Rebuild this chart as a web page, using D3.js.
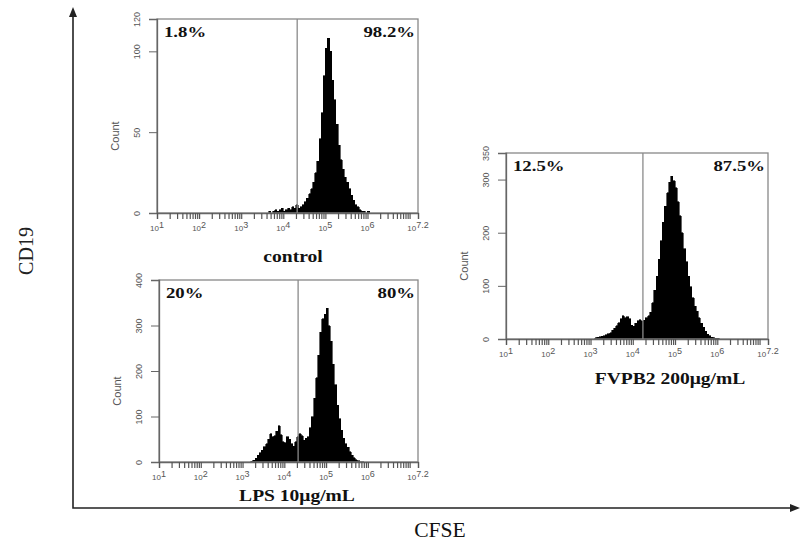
<!DOCTYPE html>
<html>
  <head>
    <meta charset="utf-8">
    <script src="https://cdn.jsdelivr.net/npm/d3@7/dist/d3.min.js"></script>
    <style>
      body {
        margin: 0;
        background: #fff;
      }

      .serif {
        font-family: "Liberation Serif", "Times New Roman", serif;
      }

      .small {
        font-family: "Liberation Sans", Arial, sans-serif;
        fill: #555;
      }
    </style>
  </head>
  <body>
    <script>
      // CFSE histograms, bins are 0.05 decade wide, start given as log10 value
      const binStep = 0.05;

      const controlStart = 3.60;
      const controlCounts = [
        0, 1, 0, 1, 2, 1, 2, 3, 1, 2, 3, 2, 4, 3, 5, 3, 4, 5, 7, 9,
        12, 15, 19, 25, 32, 46, 62, 85, 102, 108, 100, 82, 70, 55, 42, 33, 27, 22, 19, 15,
        11, 8, 5, 4, 2, 1, 1, 0, 1
      ];

      const lpsStart = 3.20;
      const lpsCounts = [
        2, 4, 8, 15, 20, 26, 33, 40, 50, 62, 56, 58, 68, 80, 60, 45, 42, 55, 50, 40,
        35, 45, 56, 62, 58, 48, 52, 56, 75, 100, 140, 185, 235, 285, 315, 325, 338, 300, 265, 215,
        170, 125, 95, 70, 52, 40, 32, 22, 15, 9, 5, 3, 1, 1
      ];

      const fvpbStart = 3.10;
      const fvpbCounts = [
        2, 3, 4, 5, 6, 8, 10, 12, 16, 20, 25, 31, 38, 44, 40, 42, 38, 26, 24, 30,
        34, 36, 33, 35, 40, 44, 50, 68, 92, 118, 150, 185, 220, 250, 275, 295, 306, 298, 285, 258,
        232, 200, 170, 145, 118, 98, 78, 62, 52, 40, 30, 22, 15, 9, 6, 3, 2, 1, 1
      ];

      const panelNames = ['control', 'LPS 10μg/mL', 'FVPB2 200μg/mL'];
      const leftPcts = ['1.8%', '20%', '12.5%'];
      const rightPcts = ['98.2%', '80%', '87.5%'];
      const gateExps = [4.33, 4.33, 4.24];
      const yMaxes = [120, 400, 350];
      const yTicks = [[0, 50, 100, 120], [0, 100, 200, 300, 400], [0, 100, 200, 300, 350]];
      const xExps = [1, 2, 3, 4, 5, 6, 7.2];
      const xExpLabels = ['1', '2', '3', '4', '5', '6', '7.2'];

      const width = 800;
      const height = 543;

      const svg = d3.select('body')
        .append('svg')
        .attr('width', width)
        .attr('height', height);

      // frame of each histogram (px)
      const boxes = [
        {x: 157, y: 19, w: 261, h: 194, title: [293, 262]},
        {x: 159, y: 280, w: 259, h: 182, title: [297, 501]},
        {x: 506, y: 153, w: 262, h: 186, title: [670, 384]}
      ];
      const allCounts = [controlCounts, lpsCounts, fvpbCounts];
      const allStarts = [controlStart, lpsStart, fvpbStart];

      const stretchText = (g, x, y, txt, size, sx, anchor, weight) => g.append('text')
        .attr('class', 'serif')
        .attr('transform', `translate(${x},${y}) scale(${sx},1)`)
        .attr('text-anchor', anchor)
        .attr('font-size', size)
        .attr('font-weight', weight)
        .attr('fill', '#111')
        .text(txt);

      const minorTicks = [];
      for (let n = 1; n <= 7; n++) {
        for (let k = 1; k <= 9; k++) {
          if (Math.log10(k) + n <= 7.2) minorTicks.push(k * Math.pow(10, n));
        }
      }
      minorTicks.push(Math.pow(10, 7.2));

      boxes.forEach((b, i) => {
        const g = svg.append('g');
        const x = d3.scaleLog()
          .domain([10, Math.pow(10, 7.2)])
          .range([b.x, b.x + b.w]);
        const y = d3.scaleLinear()
          .domain([0, yMaxes[i]])
          .range([b.y + b.h, b.y]);

        const bins = allCounts[i].map((c, j) => ({e: allStarts[i] + j * binStep, c}));
        bins.push({e: allStarts[i] + bins.length * binStep, c: 0});

        const area = d3.area()
          .curve(d3.curveStepAfter)
          .x(d => x(Math.pow(10, d.e)))
          .y0(y(0))
          .y1(d => y(d.c));

        g.append('path')
          .datum(bins)
          .attr('d', area)
          .attr('fill', '#000')
          .attr('stroke', '#000')
          .attr('stroke-width', 0.6)
          .attr('shape-rendering', 'crispEdges');

        // frame
        g.append('rect')
          .attr('x', b.x)
          .attr('y', b.y)
          .attr('width', b.w)
          .attr('height', b.h)
          .attr('fill', 'none')
          .attr('stroke', '#888')
          .attr('stroke-width', 1.3);

        // gate
        g.append('line')
          .attr('x1', x(Math.pow(10, gateExps[i])))
          .attr('x2', x(Math.pow(10, gateExps[i])))
          .attr('y1', b.y)
          .attr('y2', b.y + b.h)
          .attr('stroke', '#8a8a8a')
          .attr('stroke-width', 1.3);

        // y axis
        const yAxis = g.append('g')
          .attr('transform', `translate(${b.x},0)`)
          .call(d3.axisLeft(y).tickValues(yTicks[i]).tickSize(8));
        yAxis.select('.domain').attr('stroke', '#666').attr('stroke-width', 1.3);
        yAxis.selectAll('line').attr('stroke', '#666');
        yAxis.selectAll('text')
          .attr('class', 'small')
          .attr('font-size', 9)
          .attr('transform', 'rotate(-90)')
          .attr('x', 0)
          .attr('y', -20)
          .attr('dy', '0.35em')
          .attr('text-anchor', 'middle');

        g.append('text')
          .attr('class', 'small')
          .attr('transform', `translate(${b.x - 42},${b.y + b.h / 2 + 20}) rotate(-90)`)
          .attr('text-anchor', 'middle')
          .attr('dy', '0.35em')
          .attr('font-size', 11)
          .attr('fill', '#444')
          .text('Count');

        // x axis (log, with minor ticks)
        const xAxis = g.append('g')
          .attr('transform', `translate(0,${b.y + b.h})`)
          .call(d3.axisBottom(x).tickValues(minorTicks).tickSize(6).tickFormat(''));
        xAxis.select('.domain').attr('stroke', '#666').attr('stroke-width', 1.3);
        xAxis.selectAll('line').attr('stroke', '#555').attr('stroke-width', 1.2);

        xExps.forEach((e, j) => {
          const t = g.append('text')
            .attr('class', 'small')
            .attr('x', x(Math.pow(10, e)))
            .attr('y', b.y + b.h + 18)
            .attr('text-anchor', 'middle')
            .attr('font-size', 8);
          t.append('tspan').text('10');
          t.append('tspan')
            .attr('dy', -3)
            .attr('font-size', 9)
            .text(xExpLabels[j]);
        });

        // percentages
        stretchText(g, b.x + 7, b.y + 18, leftPcts[i], 15, 1.25, 'start', 'bold');
        stretchText(g, b.x + b.w - 3, b.y + 18, rightPcts[i], 15, 1.25, 'end', 'bold');

        // sample title
        stretchText(g, b.title[0], b.title[1], panelNames[i], 17, 1.15, 'middle', 'bold');
      });

      // outer CD19 / CFSE axes with arrows
      const axisColor = '#222';
      svg.append('path')
        .attr('d', 'M73,16 L73,508 L792,508')
        .attr('fill', 'none')
        .attr('stroke', axisColor)
        .attr('stroke-width', 1.6);
      svg.append('path')
        .attr('d', 'M73,7 L69,17 L77,17 Z')
        .attr('fill', axisColor);
      svg.append('path')
        .attr('d', 'M800,508 L790,504 L790,512 Z')
        .attr('fill', axisColor);

      svg.append('text')
        .attr('class', 'serif')
        .attr('transform', 'translate(33,251) rotate(-90)')
        .attr('text-anchor', 'middle')
        .attr('font-size', 20)
        .attr('fill', '#222')
        .text('CD19');

      stretchText(svg, 440, 537, 'CFSE', 20, 1.08, 'middle', 'normal');
    </script>
  </body>
</html>
